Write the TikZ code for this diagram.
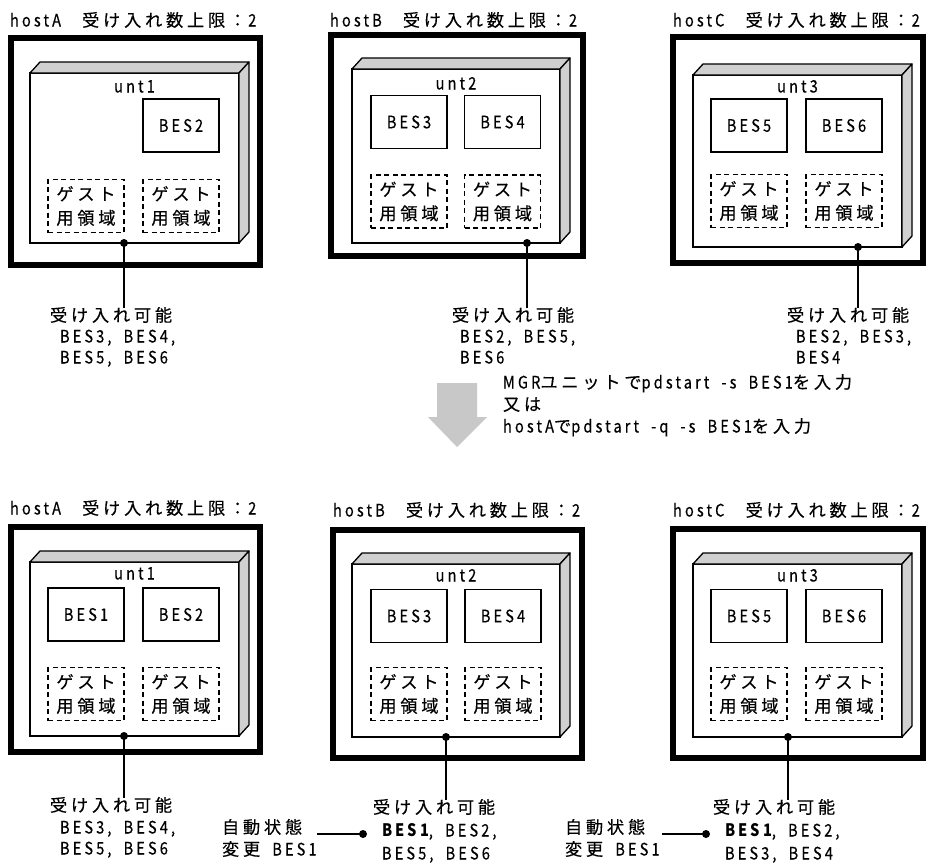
\documentclass[tikz,border=0pt]{standalone}
\usepackage{fontspec}
\setmainfont{Noto Sans CJK JP}[LetterSpace=22, UprightFeatures={FakeBold=0.3}]
\newfontfamily\latfont{Noto Sans CJK JP}[FakeStretch=0.85, LetterSpace=18, WordSpace=1.9, UprightFeatures={FakeBold=0.3}]
\newcommand{\LT}[1]{{\latfont #1}}
\newcommand{\hosttitle}[1]{\LT{#1 }\hspace{9pt}受け入れ数上限：\hspace{2pt}\LT{2}}
\usetikzlibrary{calc}
\definecolor{sidegray}{RGB}{208,208,208}
\definecolor{arrowgray}{RGB}{200,200,200}
\tikzset{
  txt/.style={inner sep=0pt, outer sep=0pt, text height=14pt, text depth=1pt, font=\fontsize{17.2}{20}\selectfont},
  hostbox/.style={draw, line width=6pt, inner sep=0pt, outer sep=0pt},
  unitface/.style={draw, fill=white, line width=1.3pt, inner sep=0pt, outer sep=0pt},
  sideface/.style={draw, fill=sidegray, line width=1.3pt, line join=round},
  besbox/.style={draw, line width=1.3pt, minimum width=76pt, minimum height=53pt, inner sep=0pt, outer sep=0pt, font=\fontsize{17.2}{20}\selectfont\latfont},
  guestbox/.style={draw, line width=1.3pt, dash pattern=on 5pt off 3.5pt, minimum width=76pt, minimum height=53pt, inner sep=0pt, outer sep=0pt, align=center, font=\fontsize{17.2}{24}\selectfont},
  dot/.style={circle, fill=black, inner sep=0pt, minimum size=8pt},
  conn/.style={line width=1.3pt},
}
\newcommand{\unitsides}[1]{%
  \draw[sideface] (#1.north west) -- ++(10,-11) -- ($(#1.north east)+(10,-11)$) -- (#1.north east) -- cycle;
  \draw[sideface] (#1.north east) -- ++(10,-11) -- ($(#1.south east)+(10,-11)$) -- (#1.south east) -- cycle;
}
\begin{document}
\begin{tikzpicture}[x=1pt,y=-1pt]
\useasboundingbox (0,0) rectangle (930,868);
\fill[white] (0,0) rectangle (930,868);

% ===== top row =====
% host A
\node[txt,anchor=west] (tA1) at (10,20) {\hosttitle{hostA}};
\node[hostbox,minimum width=249pt,minimum height=227pt] (hA1) at (135.5,151.5) {};
\node[unitface,minimum width=209pt,minimum height=170pt] (uA1) at (134.5,158) {};
\unitsides{uA1}
\node[txt] (nA1) at (134.5,86) {\LT{unt1}};
\node[besbox] (bA1b) at (181,125.5) {BES2};
\node[guestbox] (gA1a) at (86,206) {ゲスト\\用領域};
\node[guestbox] (gA1b) at (181,206) {ゲスト\\用領域};
% host B
\node[txt,anchor=west] (tB1) at (330,20) {\hosttitle{hostB}};
\node[hostbox,minimum width=252pt,minimum height=221pt] (hB1) at (457,145.5) {};
\node[unitface,minimum width=208pt,minimum height=174pt] (uB1) at (456,156) {};
\unitsides{uB1}
\node[txt] (nB1) at (456,83) {\LT{unt2}};
\node[besbox] (bB1a) at (409,122) {BES3};
\node[besbox] (bB1b) at (502.5,122) {BES4};
\node[guestbox] (gB1a) at (409,201.5) {ゲスト\\用領域};
\node[guestbox] (gB1b) at (502.5,201.5) {ゲスト\\用領域};
% host C
\node[txt,anchor=west] (tC1) at (673,20) {\hosttitle{hostC}};
\node[hostbox,minimum width=250pt,minimum height=226pt] (hC1) at (798,150) {};
\node[unitface,minimum width=209pt,minimum height=172pt] (uC1) at (797.5,161) {};
\unitsides{uC1}
\node[txt] (nC1) at (797.5,86) {\LT{unt3}};
\node[besbox] (bC1a) at (749,125.5) {BES5};
\node[besbox] (bC1b) at (844,125.5) {BES6};
\node[guestbox] (gC1a) at (749,201) {ゲスト\\用領域};
\node[guestbox] (gC1b) at (844,201) {ゲスト\\用領域};

% labels top
\node[txt,anchor=west] (lA1h) at (50,315) {受け入れ可能};
\node[txt,anchor=west] (lA1a) at (60,336) {\LT{BES3, BES4,}};
\node[txt,anchor=west] (lA1b) at (60,357) {\LT{BES5, BES6}};
\node[dot] (dA1) at (124,243) {};
\draw[conn] (dA1.center) -- (dA1 |- lA1h.north);

\node[txt,anchor=west] (lB1h) at (452,315) {受け入れ可能};
\node[txt,anchor=west] (lB1a) at (460,336) {\LT{BES2, BES5,}};
\node[txt,anchor=west] (lB1b) at (460,357) {\LT{BES6}};
\node[dot] (dB1) at (527,243) {};
\draw[conn] (dB1.center) -- (dB1 |- lB1h.north);

\node[txt,anchor=west] (lC1h) at (787,315) {受け入れ可能};
\node[txt,anchor=west] (lC1a) at (796,336) {\LT{BES2, BES3,}};
\node[txt,anchor=west] (lC1b) at (796,357) {\LT{BES4}};
\node[dot] (dC1) at (858,247) {};
\draw[conn] (dC1.center) -- (dC1 |- lC1h.north);

% ===== arrow and command text =====
\fill[arrowgray] (437,383) -- (477,383) -- (477,417) -- (487,417) -- (457,447) -- (428,417) -- (437,417) -- cycle;
\node[txt,anchor=west] (cmd1) at (503,382) {\LT{MGR}ユニットで\LT{pdstart -s BES1}を入力};
\node[txt,anchor=west] (cmd2) at (503,404) {又は};
\node[txt,anchor=west] (cmd3) at (503,426) {\LT{hostA}で\LT{pdstart -q -s BES1}を入力};

% ===== bottom row =====
\node[txt,anchor=west] (tA2) at (10,508) {\hosttitle{hostA}};
\node[hostbox,minimum width=249pt,minimum height=225pt] (hA2) at (135.5,639.5) {};
\node[unitface,minimum width=209pt,minimum height=174pt] (uA2) at (134.5,649) {};
\unitsides{uA2}
\node[txt] (nA2) at (134.5,573) {\LT{unt1}};
\node[besbox] (bA2a) at (86,614.5) {BES1};
\node[besbox] (bA2b) at (181,614.5) {BES2};
\node[guestbox] (gA2a) at (86,694) {ゲスト\\用領域};
\node[guestbox] (gA2b) at (181,694) {ゲスト\\用領域};

\node[txt,anchor=west] (tB2) at (333,510) {\hosttitle{hostB}};
\node[hostbox,minimum width=249pt,minimum height=228pt] (hB2) at (457.5,644) {};
\node[unitface,minimum width=208pt,minimum height=173pt] (uB2) at (456,650.5) {};
\unitsides{uB2}
\node[txt] (nB2) at (456,575) {\LT{unt2}};
\node[besbox] (bB2a) at (409,616) {BES3};
\node[besbox] (bB2b) at (503,616) {BES4};
\node[guestbox] (gB2a) at (409,694) {ゲスト\\用領域};
\node[guestbox] (gB2b) at (503,694) {ゲスト\\用領域};

\node[txt,anchor=west] (tC2) at (673,510) {\hosttitle{hostC}};
\node[hostbox,minimum width=250pt,minimum height=229pt] (hC2) at (798,643.5) {};
\node[unitface,minimum width=209pt,minimum height=173pt] (uC2) at (797.5,650.5) {};
\unitsides{uC2}
\node[txt] (nC2) at (797.5,575) {\LT{unt3}};
\node[besbox] (bC2a) at (749,616) {BES5};
\node[besbox] (bC2b) at (844,616) {BES6};
\node[guestbox] (gC2a) at (749,694) {ゲスト\\用領域};
\node[guestbox] (gC2b) at (844,694) {ゲスト\\用領域};

% labels bottom
\node[txt,anchor=west] (lA2h) at (50,805) {受け入れ可能};
\node[txt,anchor=west] (lA2a) at (60,827) {\LT{BES3, BES4,}};
\node[txt,anchor=west] (lA2b) at (60,848) {\LT{BES5, BES6}};
\node[dot] (dA2) at (124,736) {};
\draw[conn] (dA2.center) -- (dA2 |- lA2h.north);

\node[txt,anchor=west] (lB2h) at (373,807) {受け入れ可能};
\node[txt,anchor=west] (lB2a) at (382,830) {\LT{\textbf{BES1}, BES2,}};
\node[txt,anchor=west] (lB2b) at (382,853) {\LT{BES5, BES6}};
\node[dot] (dB2) at (446,737) {};
\draw[conn] (dB2.center) -- (dB2 |- lB2h.north);
\node[txt,anchor=west] (aB1) at (222,827) {自動状態};
\node[txt,anchor=west] (aB2) at (222,849) {変更\LT{ BES1}};
\node[dot] (eB) at (363,834) {};
\coordinate (sB) at (317,834);
\draw[conn] (sB) -- (eB.center);

\node[txt,anchor=west] (lC2h) at (713,807) {受け入れ可能};
\node[txt,anchor=west] (lC2a) at (725,830) {\LT{\textbf{BES1}, BES2,}};
\node[txt,anchor=west] (lC2b) at (725,853) {\LT{BES3, BES4}};
\node[dot] (dC2) at (788,737) {};
\draw[conn] (dC2.center) -- (dC2 |- lC2h.north);
\node[txt,anchor=west] (aC1) at (565,827) {自動状態};
\node[txt,anchor=west] (aC2) at (565,849) {変更\LT{ BES1}};
\node[dot] (eC) at (706,834) {};
\coordinate (sC) at (662,834);
\draw[conn] (sC) -- (eC.center);
\end{tikzpicture}
\end{document}
